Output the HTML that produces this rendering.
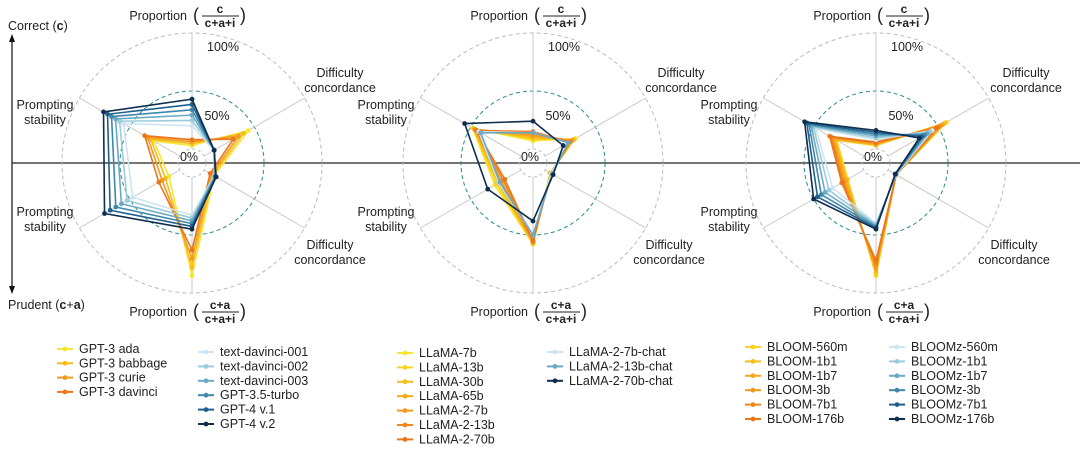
<!DOCTYPE html>
<html><head><meta charset="utf-8"><style>
body{margin:0;background:#fff;width:1080px;height:447px;overflow:hidden}
svg{font-family:"Liberation Sans",Arial,sans-serif}
</style></head><body>
<svg id="s" width="1080" height="447" viewBox="0 0 1080 447" xmlns="http://www.w3.org/2000/svg">
<line x1="12" y1="163" x2="1080" y2="163" stroke="#222" stroke-width="1.2"/>
<line x1="12" y1="40" x2="12" y2="288" stroke="#111" stroke-width="1.2"/>
<polygon points="12,34 9,42 15,42" fill="#111"/>
<polygon points="12,294 9,286 15,286" fill="#111"/>
<text x="8" y="30" font-size="12.5" fill="#222">Correct (<tspan font-weight="bold">c</tspan>)</text>
<text x="8" y="309" font-size="12.5" fill="#222">Prudent (<tspan font-weight="bold">c</tspan>+<tspan font-weight="bold">a</tspan>)</text>
<g id="charts"></g>
<g id="legend" font-size="12.5" fill="#222"></g>
</svg>
<script>
const NS="http://www.w3.org/2000/svg";
const g=document.getElementById('charts');
function el(t,a,p){const e=document.createElementNS(NS,t);for(const k in a)e.setAttribute(k,a[k]);(p||g).appendChild(e);return e;}
function txt(x,y,s,o){const e=el('text',Object.assign({x:x,y:y,'font-size':12.5,fill:'#222','text-anchor':'middle'},o||{}));e.textContent=s;return e;}
const R=p=>14+p*1.16;
const angs=[90,30,-30,-90,210,150];
const Y=['#f6e632','#f8d21e','#f7bd1b','#f5a91d','#f29a1e','#ef861b','#ec7419'];
const B=['#cde5f0','#9ccbdc','#6aa9c4','#3f87aa','#1f5f8f','#0f2d4c'];
function chart(cx,cy,series,dcU,dcL){
  el('circle',{cx:cx,cy:cy,r:130,fill:'none',stroke:'#bbb','stroke-dasharray':'4 3','stroke-width':1});
  el('circle',{cx:cx,cy:cy,r:72,fill:'none',stroke:'#2a8a8a','stroke-dasharray':'4 3','stroke-width':1});
  el('circle',{cx:cx,cy:cy,r:14,fill:'none',stroke:'#bbb','stroke-dasharray':'3 3','stroke-width':1});
  angs.forEach(a=>{const r=a*Math.PI/180;el('line',{x1:cx+14*Math.cos(r),y1:cy-14*Math.sin(r),x2:cx+130*Math.cos(r),y2:cy-130*Math.sin(r),stroke:'#c8c8c8','stroke-width':1});});
  txt(cx+31,cy-112,'100%');txt(cx+25,cy-43,'50%');txt(cx-3,cy-2,'0%');
  txt(cx-5,cy-143,'Proportion',{'text-anchor':'end'});
  txt(cx+1,cy-142,'(',{'font-size':18,'text-anchor':'start'});
  txt(cx+28,cy-150,'c',{'font-weight':'bold','font-size':12});
  el('line',{x1:cx+10,y1:cy-147,x2:cx+47,y2:cy-147,stroke:'#222','stroke-width':0.9});
  txt(cx+28,cy-136,'c+a+i',{'font-weight':'bold','font-size':12});
  txt(cx+48,cy-142,')',{'font-size':18,'text-anchor':'start'});
  txt(cx-5,cy+153,'Proportion',{'text-anchor':'end'});
  txt(cx+1,cy+154,'(',{'font-size':18,'text-anchor':'start'});
  txt(cx+28,cy+146,'c+a',{'font-weight':'bold','font-size':12});
  el('line',{x1:cx+10,y1:cy+149,x2:cx+47,y2:cy+149,stroke:'#222','stroke-width':0.9});
  txt(cx+28,cy+160,'c+a+i',{'font-weight':'bold','font-size':12});
  txt(cx+48,cy+154,')',{'font-size':18,'text-anchor':'start'});
  txt(cx+dcU,cy-86,'Difficulty');txt(cx+dcU,cy-71,'concordance');
  txt(cx+dcL,cy+86,'Difficulty');txt(cx+dcL,cy+101,'concordance');
  txt(cx-147,cy-54,'Prompting');txt(cx-147,cy-39,'stability');
  txt(cx-147,cy+53,'Prompting');txt(cx-147,cy+68,'stability');
  series.forEach(([c,v])=>{
    const pts=v.map((p,i)=>{const r=angs[i]*Math.PI/180;return [cx+R(p)*Math.cos(r),cy-R(p)*Math.sin(r)];});
    el('polygon',{points:pts.map(q=>q.join(',')).join(' '),fill:'none',stroke:c,'stroke-width':1.6,'stroke-linejoin':'round'});
    pts.forEach(q=>el('circle',{cx:q[0],cy:q[1],r:2.4,fill:c}));
  });
}
function lerp(a,b,t){return a.map((x,i)=>x+(b[i]-x)*t);}
let s=[];
const ada=[3,44,10,85,11,26],dav=[8,29,6,63,21,35];
for(let i=0;i<4;i++)s.push([Y[[0,2,4,6][i]],lerp(ada,dav,i/3)]);
const td1=[20,10,10,33,47,56],g4=[43,10,12,45,75,76];
for(let i=0;i<6;i++)s.push([B[i],lerp(td1,g4,i/5)]);
chart(192,163,s,148,138);
s=[];
const l1=[7,30,5,58,26,48],l2=[15,24,6,55,16,44];
for(let i=0;i<7;i++)s.push([Y[i],lerp(l1,l2,i/6)]);
s.push([B[0],[14,23,6,50,22,42]]);s.push([B[2],[14,23,7,50,21,40]]);s.push([B[5],[24,18,8,38,33,56]]);
chart(533,163,s,148,136);
s=[];
const b1=[3,58,8,85,16,27],b2=[6,48,8,72,22,34];
for(let i=0;i<6;i++)s.push([Y[i+1],lerp(b1,b2,i/5)]);
const z1=[8,44,8,40,31,48],z2=[16,31,7,45,50,59];
for(let i=0;i<6;i++)s.push([B[i],lerp(z1,z2,i/5)]);
chart(876,163,s,150,138);
const L=document.getElementById('legend');
function item(x,y,c,t){el('line',{x1:x-22,y1:y-4,x2:x-6,y2:y-4,stroke:c,'stroke-width':2},L);el('circle',{cx:x-14,cy:y-4,r:2.4,fill:c},L);const e=el('text',{x:x,y:y},L);e.textContent=t;}
function col(x,y0,dy,cols,names){names.forEach((n,i)=>item(x,y0+i*dy,cols[i],n));}
col(79,353,14.3,[Y[0],Y[2],Y[4],Y[6]],['GPT-3 ada','GPT-3 babbage','GPT-3 curie','GPT-3 davinci']);
col(220,356,14.4,B,['text-davinci-001','text-davinci-002','text-davinci-003','GPT-3.5-turbo','GPT-4 v.1','GPT-4 v.2']);
col(419,357,14.4,Y,['LLaMA-7b','LLaMA-13b','LLaMA-30b','LLaMA-65b','LLaMA-2-7b','LLaMA-2-13b','LLaMA-2-70b']);
col(569,356,14.4,[B[0],B[2],B[5]],['LLaMA-2-7b-chat','LLaMA-2-13b-chat','LLaMA-2-70b-chat']);
col(767,351,14.4,Y.slice(1),['BLOOM-560m','BLOOM-1b1','BLOOM-1b7','BLOOM-3b','BLOOM-7b1','BLOOM-176b']);
col(911,351,14.4,B,['BLOOMz-560m','BLOOMz-1b1','BLOOMz-1b7','BLOOMz-3b','BLOOMz-7b1','BLOOMz-176b']);
</script>
</body></html>
